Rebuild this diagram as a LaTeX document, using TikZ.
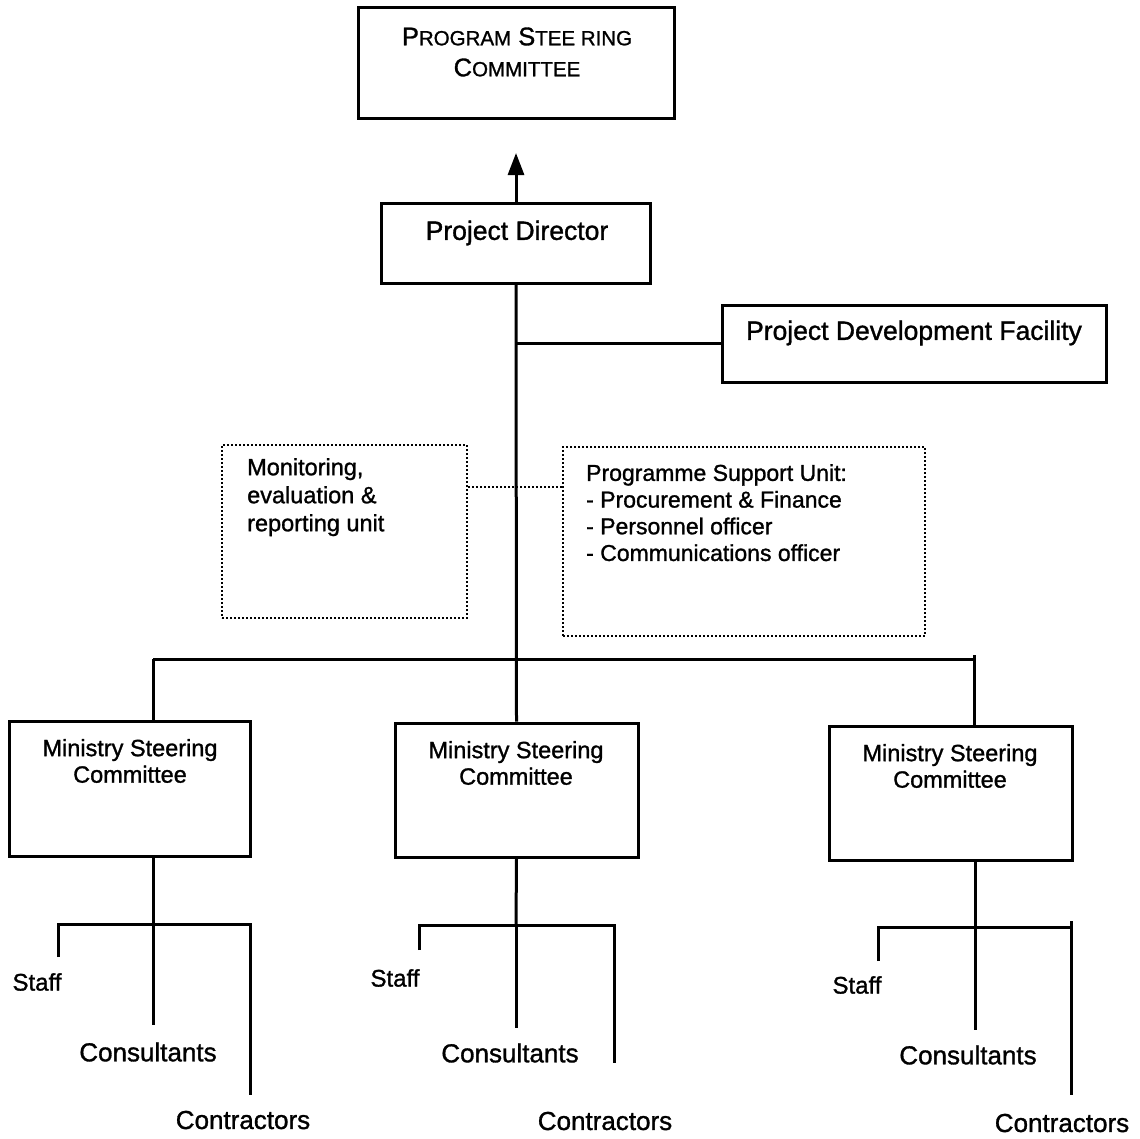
\documentclass[tikz,border=0pt]{standalone}
\usepackage{fontspec}
\setmainfont[FakeBold=1.2]{Liberation Sans}
\newfontfamily\boxfont[FakeBold=1.2]{Liberation Sans}
\usetikzlibrary{arrows.meta}

\begin{document}
\begin{tikzpicture}[x=1pt,y=-1pt,
  every node/.style={font=\boxfont},
  solidbox/.style={draw, line width=3pt, inner sep=0pt},
  dotbox/.style={draw, line width=2.8pt, dash pattern=on 2pt off 2pt, inner sep=0pt},
  wire/.style={line width=3pt},
  dotwire/.style={line width=2.8pt, dash pattern=on 2pt off 2pt},
  lbl/.style={inner sep=0pt, align=center},
  leaf/.style={inner sep=0pt, font=\boxfont\fontsize{26}{30}\selectfont},
  staffl/.style={inner sep=0pt, font=\boxfont\fontsize{24}{28}\selectfont},
  boxtext/.style={inner sep=0pt, align=center, font=\boxfont\fontsize{23.5}{26.5}\selectfont},
  listtext/.style={inner sep=0pt, align=left, anchor=north west}
]
\useasboundingbox (0,0) rectangle (1140,1138);

% ---- boxes ----
\node[solidbox, minimum width=316pt, minimum height=111pt] (psc) at (516,62.5) {};
\node[lbl, font=\boxfont\fontsize{25.5}{31}\selectfont] (psct) at (517,52)
  {P{\fontsize{20.5}{31}\selectfont ROGRAM} S{\fontsize{20.5}{31}\selectfont TEE RING}\\
   C{\fontsize{20.5}{31}\selectfont OMMITTEE}};

\node[solidbox, minimum width=269pt, minimum height=80pt] (pd) at (516,243) {};
\node[lbl, font=\boxfont\fontsize{26.5}{30}\selectfont] (pdt) at (517,233) {Project Director};

\node[solidbox, minimum width=384pt, minimum height=77pt] (pdf) at (914,343.5) {};
\node[lbl, font=\boxfont\fontsize{26.5}{30}\selectfont] (pdft) at (914,333) {Project Development Facility};

\node[dotbox, minimum width=245pt, minimum height=173pt] (meru) at (344.5,531.5) {};
\node[listtext, font=\boxfont\fontsize{23.5}{28}\selectfont] (merut) at (247,458)
  {Monitoring,\\evaluation \&\\reporting unit};

\node[dotbox, minimum width=362pt, minimum height=189pt] (psu) at (744,541.5) {};
\node[listtext, font=\boxfont\fontsize{23}{26.7}\selectfont] (psut) at (586,464)
  {Programme Support Unit:\\- Procurement \& Finance\\- Personnel officer\\- Communications officer};

\node[solidbox, minimum width=241pt, minimum height=135pt] (msa) at (129.5,788.5) {};
\node[boxtext] (msat) at (130,761) {Ministry Steering\\Committee};

\node[solidbox, minimum width=243pt, minimum height=134pt] (msb) at (516.5,790) {};
\node[boxtext] (msbt) at (516,763) {Ministry Steering\\Committee};

\node[solidbox, minimum width=243pt, minimum height=134pt] (msc) at (950.5,793) {};
\node[boxtext] (msct) at (950,766) {Ministry Steering\\Committee};

% ---- leaf labels ----
\node[staffl] (sa) at (37,982) {Staff};
\node[leaf] (ca) at (148,1052) {Consultants};
\node[leaf] (ka) at (243,1120) {Contractors};
\node[staffl] (sb) at (395,978) {Staff};
\node[leaf] (cb) at (510,1053) {Consultants};
\node[leaf] (kb) at (605,1121) {Contractors};
\node[staffl] (sc) at (857,985) {Staff};
\node[leaf] (cc) at (968,1055) {Consultants};
\node[leaf] (kc) at (1062,1123) {Contractors};

% ---- helper points ----
\coordinate (tip) at (516,153);
\coordinate (pdfj) at (516,343.5);
\coordinate (dotrow) at (0,487);
\coordinate (busl) at (153,659);
\coordinate (busr) at (974,659);
\coordinate (busrtop) at (974,655);

% ---- connectors ----
\draw[wire, -{Triangle[width=16pt,length=22pt]}] (pd.north) -- (tip);
\draw[wire] (pd.south) -- (msb.north);
\draw[wire] (pdfj) -- (pdf.west);
\draw[dotwire] (meru.east |- dotrow) -- (psu.west |- dotrow);
\draw[wire] (busl) -- (busr);
\draw[wire] (busl) -- (busl |- msa.north);
\draw[wire] (busrtop) -- (busrtop |- msc.north);

% left group
\coordinate (ja) at (153,924);
\draw[wire] (ja |- msa.south) -- (ja);
\draw[wire] (58,957) -- (58,924) -- (250,924) -- (250,1095);
\draw[wire] (ja) -- (153,1025);

% middle group
\coordinate (jb) at (516,925);
\draw[wire] (msb.south) -- (jb);
\draw[wire] (419,950) -- (419,925) -- (614,925) -- (614,1063);
\draw[wire] (jb) -- (516,1028);

% right group
\coordinate (jc) at (975,927);
\draw[wire] (jc |- msc.south) -- (jc);
\draw[wire] (878,961) -- (878,927) -- (1071,927);
\draw[wire] (1071,921) -- (1071,1095);
\draw[wire] (jc) -- (975,1030);
\end{tikzpicture}
\end{document}
